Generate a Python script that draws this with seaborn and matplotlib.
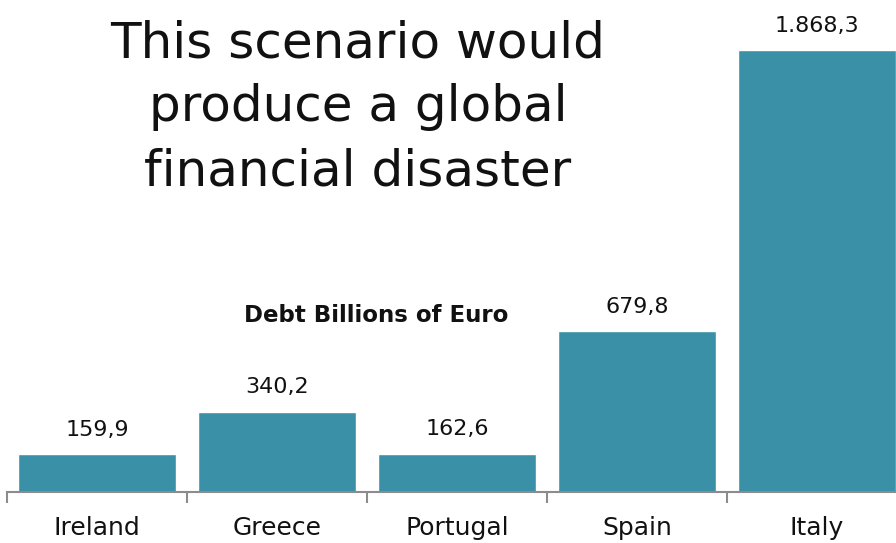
import matplotlib
matplotlib.use("Agg")
import matplotlib.pyplot as plt
import seaborn as sns
import pandas as pd

countries = ["Ireland", "Greece", "Portugal", "Spain", "Italy"]
debt = [159.9, 340.2, 162.6, 679.8, 1868.3]
value_labels = ["159,9", "340,2", "162,6", "679,8", "1.868,3"]
headline = ["This scenario would", "produce a global", "financial disaster"]

sns.set_theme(style="white")
plt.rcParams["font.family"] = ["DejaVu Sans"]

df = pd.DataFrame({"country": countries, "debt": debt})

W, H = 896, 543
fig = plt.figure(figsize=(W / 100, H / 100), dpi=100)
ax = fig.add_axes([7 / W, (H - 492) / H, 900 / W, 492 / H])

sns.barplot(data=df, x="country", y="debt", color="#3A90A7", saturation=1,
            width=0.875, ax=ax)

ax.set_ylim(0, 2080)
ax.set_xlim(-0.5, 4.5)
ax.set_xlabel("")
ax.set_ylabel("")
ax.set_yticks([])

for s in ["top", "right", "left"]:
    ax.spines[s].set_visible(False)
ax.spines["bottom"].set_color("#8C8C8C")
ax.spines["bottom"].set_linewidth(1.5)

# category labels centered, tick marks on category boundaries
ax.set_xticks(range(len(countries)))
ax.set_xticklabels(countries, fontsize=18, color="#111111")
ax.set_xticks([i - 0.5 for i in range(len(countries) + 1)], minor=True)
ax.tick_params(axis="x", which="major", bottom=False, length=0, pad=17)
ax.tick_params(axis="x", which="minor", bottom=True, length=8, width=1.5,
               color="#8C8C8C", direction="out")

for i, (v, lab) in enumerate(zip(debt, value_labels)):
    ax.annotate(lab, (i, v), xytext=(0, 13), textcoords="offset points",
                ha="center", va="baseline", fontsize=16, color="#111111")

fig.text(376 / W, 1 - 322 / H, "Debt Billions of Euro", ha="center",
         va="baseline", fontsize=16.5, fontweight="bold", color="#111111")

for k, line in enumerate(headline):
    fig.text(358 / W, 1 - (57 + 64 * k) / H, line, ha="center",
             va="baseline", fontsize=36, color="#111111")

fig.savefig("out.png", dpi=100)
